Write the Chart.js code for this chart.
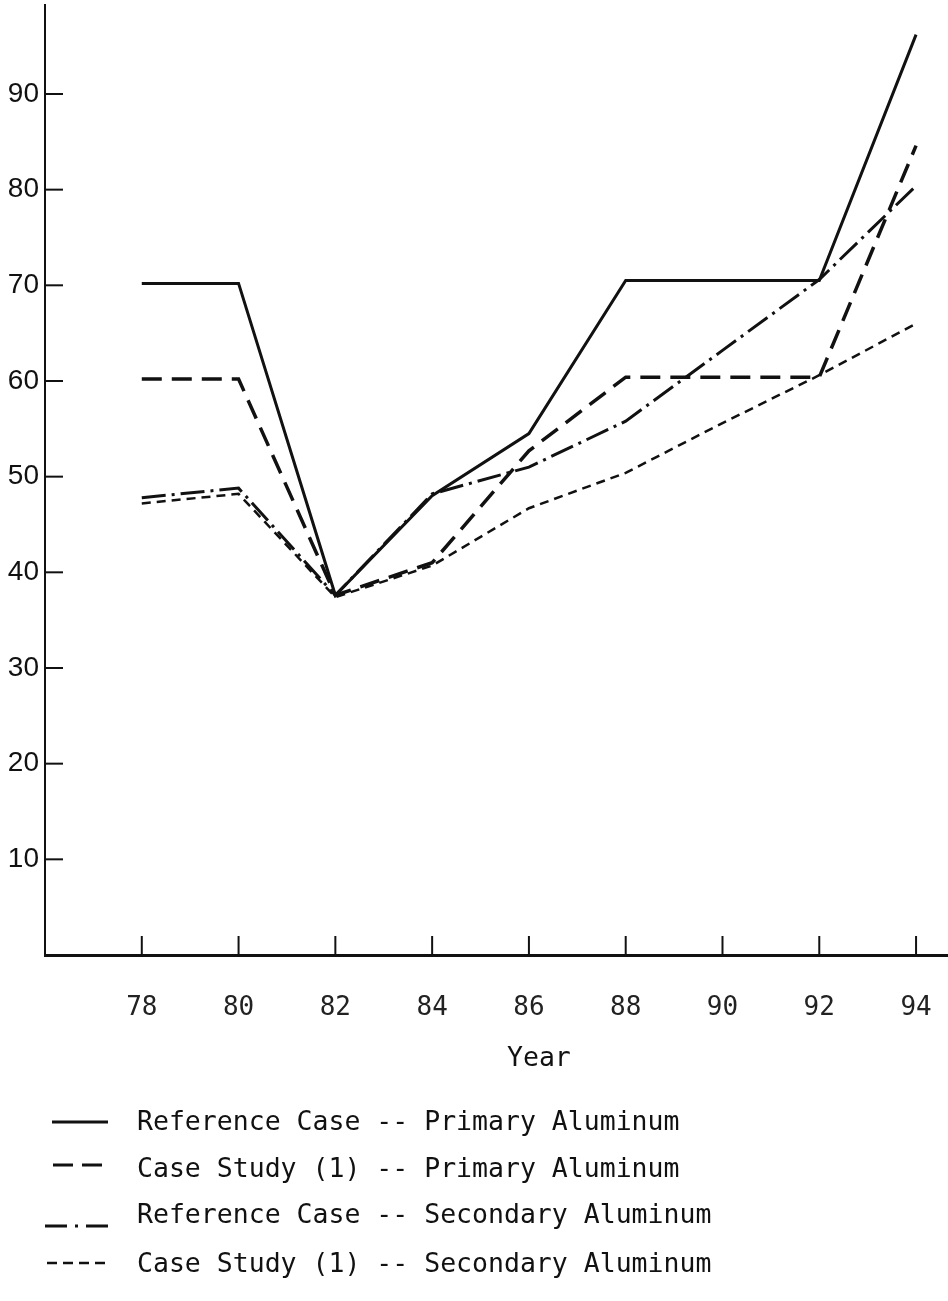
<!DOCTYPE html>
<html>
<head>
<meta charset="utf-8">
<script src="https://cdn.jsdelivr.net/npm/chart.js@4/dist/chart.umd.min.js"></script>
<style>
  html, body { margin: 0; padding: 0; background: #fff; }
  #wrap { position: relative; width: 948px; height: 1301px; overflow: hidden; background: #fff; }
  #c { position: absolute; left: 0; top: 0; }
  .txt { position: absolute; font-family: "DejaVu Sans Mono", monospace; font-size: 26.5px; color: #111; white-space: pre; line-height: 30px; }
  .sample { position: absolute; }
</style>
</head>
<body>
<div id="wrap">
  <canvas id="c" width="948" height="1301"></canvas>
  <div class="txt" id="xtitle" style="left:507px; top:1042px;">Year</div>
  <svg class="sample" style="left:0; top:1090px;" width="130" height="200">
    <line x1="52" y1="32" x2="108" y2="32" stroke="#111" stroke-width="3"/>
    <line x1="53" y1="75" x2="103" y2="75" stroke="#111" stroke-width="3" stroke-dasharray="20,9"/>
    <line x1="45" y1="136" x2="110" y2="136" stroke="#111" stroke-width="3" stroke-dasharray="22,8,3,8"/>
    <line x1="47" y1="173" x2="110" y2="173" stroke="#111" stroke-width="2.5" stroke-dasharray="10,6"/>
  </svg>
  <div class="txt" style="left:137px; top:1106px;">Reference Case -- Primary Aluminum</div>
  <div class="txt" style="left:137px; top:1153px;">Case Study (1) -- Primary Aluminum</div>
  <div class="txt" style="left:137px; top:1199px;">Reference Case -- Secondary Aluminum</div>
  <div class="txt" style="left:137px; top:1248px;">Case Study (1) -- Secondary Aluminum</div>
</div>
<script>
// ---- data ----
const years = [78, 80, 82, 84, 86, 88, 90, 92, 94];
const refPrimary    = [70.2, 70.2, 37.6, 48.0, 54.5, 70.5, 70.5, 70.5, 96.2];
const casePrimary   = [60.2, 60.2, 37.6, 41.0, 52.7, 60.4, 60.4, 60.4, 84.6];
const refSecondary  = [47.8, 48.8, 37.6, 48.2, 51.0, 55.8, 63.2, 70.6, 80.4];
const caseSecondary = [47.2, 48.2, 37.4, 40.7, 46.7, 50.4, 55.6, 60.6, 66.0];
const yTickValues = [10, 20, 30, 40, 50, 60, 70, 80, 90];
const xTickValues = years;

const pts = arr => years.map((y, i) => ({ x: y, y: arr[i] }));

const inwardTicks = {
  id: 'inwardTicks',
  afterDatasetsDraw(chart) {
    const ctx = chart.ctx;
    const xs = chart.scales.x, ys = chart.scales.y;
    const ca = chart.chartArea;
    ctx.save();
    ctx.strokeStyle = '#111';
    ctx.lineWidth = 2;
    yTickValues.forEach(v => {
      const py = ys.getPixelForValue(v);
      ctx.beginPath();
      ctx.moveTo(ca.left, py);
      ctx.lineTo(ca.left + 18, py);
      ctx.stroke();
    });
    xTickValues.forEach(v => {
      const px = xs.getPixelForValue(v);
      ctx.beginPath();
      ctx.moveTo(px, ca.bottom);
      ctx.lineTo(px, ca.bottom - 19);
      ctx.stroke();
    });
    ctx.restore();
  }
};

new Chart(document.getElementById('c'), {
  type: 'line',
  data: {
    datasets: [
      { label: 'Reference Case -- Primary Aluminum', data: pts(refPrimary), borderColor: '#111', borderWidth: 3 },
      { label: 'Case Study (1) -- Primary Aluminum', data: pts(casePrimary), borderColor: '#111', borderWidth: 3.5, borderDash: [20, 10] },
      { label: 'Reference Case -- Secondary Aluminum', data: pts(refSecondary), borderColor: '#111', borderWidth: 3, borderDash: [24, 6, 3, 6] },
      { label: 'Case Study (1) -- Secondary Aluminum', data: pts(caseSecondary), borderColor: '#111', borderWidth: 2.5, borderDash: [9, 6] }
    ]
  },
  options: {
    responsive: false,
    animation: false,
    events: [],
    layout: { padding: { top: 5, left: 0, right: 0, bottom: 0 } },
    elements: { point: { radius: 0 }, line: { tension: 0, fill: false, borderJoinStyle: 'miter', borderCapStyle: 'butt' } },
    plugins: { legend: { display: false }, tooltip: { enabled: false } },
    scales: {
      x: {
        type: 'linear',
        min: 76,
        max: 94.66,
        afterBuildTicks: s => { s.ticks = xTickValues.map(v => ({ value: v })); },
        afterFit: s => { s.height = 346; s.paddingLeft = 0; s.paddingRight = 0; },
        grid: { display: true, drawOnChartArea: false, drawTicks: false },
        border: { display: true, color: '#111', width: 3 },
        ticks: {
          color: '#222',
          padding: 38,
          maxRotation: 0,
          autoSkip: false,
          font: { family: 'DejaVu Sans Mono', size: 26 },
          callback: v => String(v)
        }
      },
      y: {
        type: 'linear',
        min: 0,
        max: 99.3,
        afterBuildTicks: s => { s.ticks = yTickValues.map(v => ({ value: v })); },
        afterFit: s => { s.width = 45; s.paddingTop = 0; s.paddingBottom = 0; },
        grid: { display: true, drawOnChartArea: false, drawTicks: false },
        border: { display: true, color: '#111', width: 2 },
        ticks: {
          color: '#111',
          padding: 6,
          autoSkip: false,
          font: { family: 'Liberation Sans', size: 28 },
          callback: v => String(v)
        }
      }
    }
  },
  plugins: [inwardTicks]
});
</script>
</body>
</html>
